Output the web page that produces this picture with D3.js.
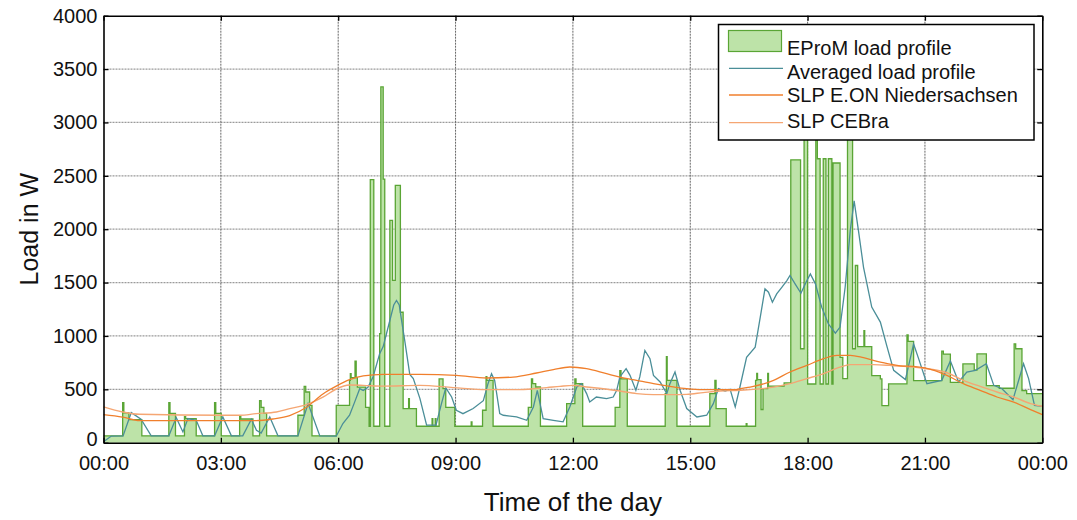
<!DOCTYPE html>
<html><head><meta charset="utf-8">
<script src="https://cdn.jsdelivr.net/npm/d3@7"></script>
<style>
html,body{margin:0;padding:0;background:#fff;}
svg{display:block;font-family:"Liberation Sans",Arial,sans-serif;}
</style></head>
<body>
<svg id="chart" width="1077" height="520"></svg>
<script>
// ---------- DATA ----------
const timeTickValues = [0,3,6,9,12,15,18,21,24];
const timeTickLabels = ["00:00","03:00","06:00","09:00","12:00","15:00","18:00","21:00","00:00"];
const loadTickValues = [0,500,1000,1500,2000,2500,3000,3500,4000];
const seriesNames = ["EProM load profile","Averaged load profile","SLP E.ON Niedersachsen","SLP CEBra"];

// EProM measured profile: [hour, W] change points (step after)
const epromProfile = [
[0,64],[0.49,376],[0.52,280],[0.65,217],[0.98,64],[1.67,376],[1.70,275],[1.84,64],[2.07,245],[2.10,225],[2.37,64],
[2.84,376],[2.87,275],[3.01,64],[3.48,245],[3.51,222],[3.82,64],[3.99,393],[4.03,330],[4.10,275],[4.17,64],
[4.97,257],[5.13,528],[5.17,475],[5.27,350],[5.33,64],[5.95,350],[6.29,584],[6.31,646],[6.33,610],[6.43,765],[6.46,610],
[6.49,521],[6.70,330],[6.79,154],[6.82,2464],[6.91,154],[7.06,1022],[7.09,3333],[7.15,2470],[7.19,154],[7.32,2083],
[7.39,1520],[7.46,2410],[7.59,1222],[7.66,320],[7.80,413],[7.82,320],[8.00,154],[8.40,226],[8.42,154],[8.48,226],[8.50,154],
[8.58,597],[8.68,507],[8.75,331],[8.98,154],[9.40,195],[9.42,154],[9.69,304],[9.78,619],[9.80,584],[9.96,154],
[10.86,331],[10.94,597],[10.97,553],[11.05,522],[11.17,154],[11.84,366],[12.05,597],[12.08,553],[12.25,154],
[13.08,331],[13.20,675],[13.23,597],[13.39,154],[14.36,460],[14.39,807],[14.41,584],[14.66,154],[15.50,460],[15.63,584],
[15.66,320],[15.92,154],[16.43,179],[16.45,154],[16.67,584],[16.70,650],[16.72,590],[16.81,311],[16.86,507],[16.98,650],
[17.00,530],[17.40,560],[17.57,2650],[17.82,880],[17.91,3000],[18.00,550],[18.21,3000],[18.25,2660],[18.32,550],
[18.40,2660],[18.47,550],[18.53,2660],[18.62,550],[18.65,2620],[18.83,800],[18.90,600],[19.02,3000],[19.15,880],
[19.22,1660],[19.28,900],[19.44,1050],[19.46,900],[19.64,628],[19.86,597],[19.90,347],[20.07,551],[20.54,1010],
[20.57,950],[20.71,582],[21.43,857],[21.47,830],[21.65,566],[21.97,738],[22.26,680],[22.33,832],[22.57,535],[22.90,510],
[23.28,926],[23.32,880],[23.48,488],[23.60,460],[24.0,460]
];

// Averaged load profile
const averagedProfile = [
[0,8],[0.2,62],[0.5,64],[0.71,282],[0.96,220],[1.22,64],[1.67,64],[1.86,235],[2.03,101],[2.16,226],[2.37,210],[2.54,64],
[2.84,64],[3.05,241],[3.27,64],[3.56,64],[3.78,220],[3.91,117],[4.03,90],[4.25,241],[4.46,64],[4.97,64],[5.23,366],[5.53,64],
[5.95,61],[6.12,180],[6.29,257],[6.42,380],[6.55,506],[6.64,490],[6.76,520],[6.89,615],[7.06,834],[7.15,900],[7.32,1145],
[7.42,1290],[7.49,1332],[7.56,1290],[7.62,1145],[7.70,958],[7.83,640],[7.92,600],[8.09,413],[8.26,164],[8.50,164],[8.64,366],
[8.75,513],[8.90,428],[9.02,304],[9.19,272],[9.45,320],[9.71,394],[9.83,553],[9.92,647],[10.0,584],[10.13,272],[10.22,257],
[10.56,241],[10.82,210],[10.99,335],[11.09,491],[11.24,226],[11.50,210],[11.75,195],[11.92,335],[12.10,522],[12.22,553],
[12.35,460],[12.43,382],[12.60,428],[12.86,413],[13.03,428],[13.12,491],[13.20,616],[13.36,694],[13.46,631],[13.61,491],
[13.71,616],[13.84,864],[13.97,787],[14.06,631],[14.23,569],[14.40,460],[14.48,553],[14.61,662],[14.74,491],[14.91,320],
[15.17,241],[15.42,257],[15.59,366],[15.72,506],[15.89,484],[16.02,500],[16.15,335],[16.27,522],[16.44,800],[16.66,895],
[16.79,1176],[16.91,1441],[17.0,1410],[17.10,1316],[17.21,1394],[17.34,1456],[17.47,1519],[17.55,1566],[17.68,1488],
[17.83,1400],[17.94,1488],[18.07,1581],[18.20,1488],[18.36,1270],[18.53,1114],[18.71,1026],[18.83,1083],[18.96,1456],
[19.09,1986],[19.19,2266],[19.30,1986],[19.43,1643],[19.64,1270],[19.86,1130],[20.03,900],[20.20,678],[20.50,591],
[20.71,925],[20.84,785],[21.05,553],[21.43,584],[21.65,765],[21.86,569],[22.07,662],[22.29,678],[22.57,740],[22.76,537],
[22.97,506],[23.25,403],[23.52,740],[23.65,600],[23.80,350],[24.0,340]
];

// SLP E.ON Niedersachsen
const slpEon = [
[0,263],[0.49,240],[0.92,206],[3.9,206],[4.33,222],[4.76,254],[5.19,332],[5.61,457],[5.95,530],[6.29,590],[6.64,625],
[7.15,640],[8.09,640],[9.02,631],[9.79,606],[10.47,615],[11.07,653],[11.5,684],[11.92,709],[12.35,693],[12.86,646],
[13.2,615],[13.63,584],[14.06,553],[14.48,528],[14.91,506],[15.3,497],[16.15,497],[16.27,506],[16.53,520],[17.13,584],
[17.55,662],[17.98,724],[18.41,787],[18.75,818],[19.09,818],[19.43,796],[19.86,755],[20.37,720],[20.71,715],[21.0,700],
[21.56,630],[21.98,553],[22.41,491],[22.84,428],[23.27,381],[23.7,310],[24,263]
];

// SLP CEBra
const slpCebra = [
[0,335],[0.49,288],[0.92,266],[3.05,257],[3.48,257],[3.9,272],[4.42,288],[4.76,319],[5.19,357],[5.61,426],[5.95,503],
[6.29,540],[6.64,537],[7.15,530],[8.09,537],[8.94,516],[9.79,497],[10.64,497],[11.33,516],[11.67,528],[12.01,537],
[12.35,522],[12.78,506],[13.2,484],[13.63,460],[14.06,450],[14.48,450],[14.91,453],[15.33,469],[15.76,484],[16.27,491],
[17.13,521],[17.55,553],[17.98,600],[18.41,647],[18.83,708],[19.09,731],[19.69,731],[20.11,724],[20.71,708],[21.0,695],
[21.56,655],[21.98,584],[22.41,528],[22.84,475],[23.27,428],[23.7,366],[24,341]
];

// ---------- DRAW ----------
const svg = d3.select("#chart");
const L = 103.5, R = 1042.3, T = 15.7, B = 442.7;
const x = d3.scaleLinear().domain([0,24]).range([L,R]);
const y = d3.scaleLinear().domain([0,4000]).range([B,T]);

const cGreenFill = "#bde3a8", cGreenLine = "#5aa535", cTeal = "#4a8e98",
      cEon = "#f07f2c", cCebra = "#f5a673";

// gridlines
const grid = svg.append("g");
grid.selectAll("line.h").data(loadTickValues.filter(v=>v>0 && v<4000)).join("line")
  .attr("x1",L).attr("x2",R).attr("y1",d=>y(d)).attr("y2",d=>y(d))
  .attr("stroke","#9a9a9a").attr("stroke-width",1.3).attr("stroke-dasharray","2,1");
grid.selectAll("line.v").data(timeTickValues.filter(v=>v>0 && v<24)).join("line")
  .attr("y1",T).attr("y2",B).attr("x1",d=>x(d)).attr("x2",d=>x(d))
  .attr("stroke","#666").attr("stroke-width",1).attr("stroke-dasharray","2,1");

// EProM area
const area = d3.area().curve(d3.curveStepAfter).x(d=>x(d[0])).y0(y(0)).y1(d=>y(d[1]));
svg.append("path").datum(epromProfile).attr("d",area).attr("fill",cGreenFill);
const stepLine = d3.line().curve(d3.curveStepAfter).x(d=>x(d[0])).y(d=>y(d[1]));
svg.append("path").datum(epromProfile).attr("d",stepLine).attr("fill","none")
  .attr("stroke",cGreenLine).attr("stroke-width",1.3);

const line = d3.line().x(d=>x(d[0])).y(d=>y(d[1]));
svg.append("path").datum(averagedProfile).attr("d",line).attr("fill","none")
  .attr("stroke",cTeal).attr("stroke-width",1.3);
svg.append("path").datum(slpCebra).attr("d",line.curve(d3.curveMonotoneX)).attr("fill","none")
  .attr("stroke",cCebra).attr("stroke-width",1.4);
svg.append("path").datum(slpEon).attr("d",line.curve(d3.curveMonotoneX)).attr("fill","none")
  .attr("stroke",cEon).attr("stroke-width",1.3);

// axes
const fmt = (d,i)=>timeTickLabels[i];
const axB = svg.append("g").attr("transform",`translate(0,${B})`)
  .call(d3.axisBottom(x).tickValues(timeTickValues).tickFormat(fmt).tickSizeInner(-5).tickSizeOuter(0).tickPadding(13));
const axT = svg.append("g").attr("transform",`translate(0,${T})`)
  .call(d3.axisTop(x).tickValues(timeTickValues).tickFormat("").tickSizeInner(-5).tickSizeOuter(0));
const axL = svg.append("g").attr("transform",`translate(${L},0)`)
  .call(d3.axisLeft(y).tickValues(loadTickValues).tickFormat(d3.format("d")).tickSizeInner(-5).tickSizeOuter(0).tickPadding(6));
const axR = svg.append("g").attr("transform",`translate(${R},0)`)
  .call(d3.axisRight(y).tickValues(loadTickValues).tickFormat("").tickSizeInner(-5).tickSizeOuter(0));
[axB,axT,axL,axR].forEach(g=>{
  g.select(".domain").attr("stroke","#000").attr("stroke-width",1.6);
  g.selectAll(".tick line").attr("stroke","#000").attr("stroke-width",1.3);
  g.selectAll("text").attr("font-size",20).attr("fill","#111").attr("font-family","Liberation Sans, Arial, sans-serif");
});
// nudge the zero label up slightly so it does not collide with the first time label
axL.selectAll(".tick text").filter(d=>d===0).attr("dy","0.12em");

// axis titles
svg.append("text").attr("x",(L+R)/2).attr("y",511).attr("text-anchor","middle")
  .attr("font-size",26).attr("fill","#111").text("Time of the day");
svg.append("text").attr("transform",`translate(38,${(T+B)/2}) rotate(-90)`).attr("text-anchor","middle")
  .attr("font-size",25).attr("fill","#111").text("Load in W");

// legend
const lg = svg.append("g");
lg.append("rect").attr("x",718.5).attr("y",24.5).attr("width",315.5).attr("height",115.5)
  .attr("fill","#fff").attr("stroke","#000").attr("stroke-width",1.5);
lg.append("rect").attr("x",728.5).attr("y",30.5).attr("width",53).attr("height",21)
  .attr("fill",cGreenFill).attr("stroke",cGreenLine).attr("stroke-width",1.2);
const lineYs = [68.3,95,122.7];
const lineCols = [cTeal,cEon,cCebra];
lg.selectAll("line.s").data(lineYs).join("line")
  .attr("x1",729).attr("x2",783).attr("y1",d=>d).attr("y2",d=>d)
  .attr("stroke",(d,i)=>lineCols[i]).attr("stroke-width",1.3);
const textYs = [55,78.5,102,128];
lg.selectAll("text").data(seriesNames).join("text")
  .attr("x",787).attr("y",(d,i)=>textYs[i]).attr("font-size",20).attr("fill","#111").text(d=>d);
</script>
</body></html>
